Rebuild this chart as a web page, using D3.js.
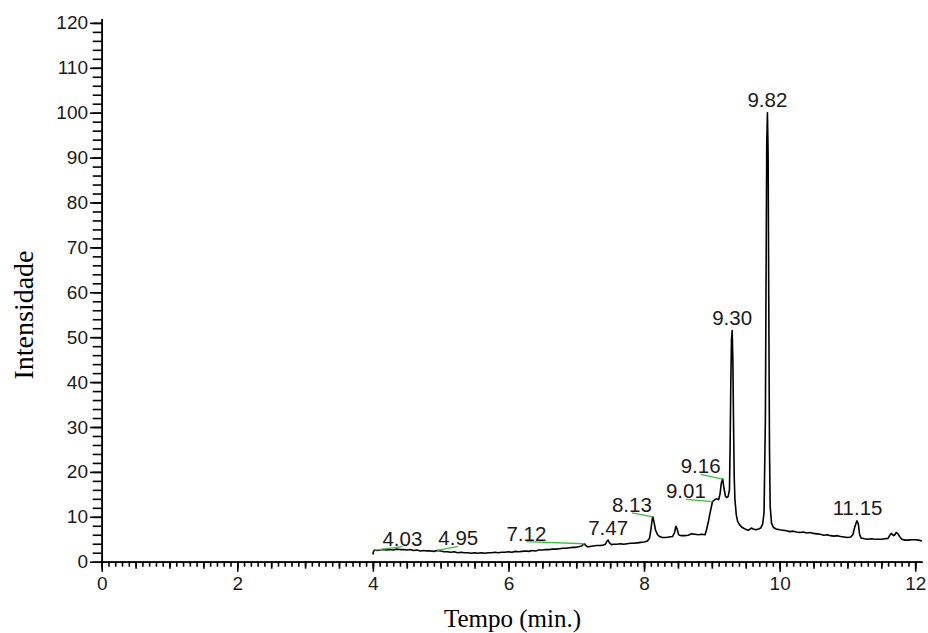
<!DOCTYPE html>
<html>
<head>
<meta charset="utf-8">
<script src="https://cdn.jsdelivr.net/npm/d3@7"></script>
<style>
  body { margin: 0; background: #fff; }
  .tick text { font-family: "Liberation Sans", Arial, sans-serif; fill: #1a1a1a; }
  .axis path, .axis line { stroke: #000; stroke-width: 1.6; }
</style>
</head>
<body>
<div id="chart"></div>
<script>
// chromatogram trace (time in min, relative intensity)
const times = [
  4.00, 4.01, 4.03, 4.06, 4.10, 4.15, 4.20, 4.25, 4.30, 4.35, 4.40, 4.45, 4.50, 4.55, 4.60, 4.65,
  4.70, 4.75, 4.80, 4.85, 4.90, 4.95, 5.00, 5.05, 5.10, 5.15, 5.20, 5.25, 5.30, 5.35, 5.40, 5.45,
  5.50, 5.55, 5.60, 5.65, 5.70, 5.75, 5.80, 5.85, 5.90, 5.95, 6.00, 6.05, 6.10, 6.15, 6.20, 6.25,
  6.30, 6.35, 6.40, 6.45, 6.50, 6.55, 6.60, 6.65, 6.70, 6.75, 6.80, 6.85, 6.90, 6.95, 7.00, 7.05,
  7.08, 7.10, 7.12, 7.14, 7.17, 7.20, 7.25, 7.30, 7.35, 7.40, 7.43, 7.45, 7.47, 7.49, 7.52, 7.55,
  7.60, 7.65, 7.70, 7.75, 7.80, 7.85, 7.90, 7.95, 8.00, 8.05, 8.08, 8.10, 8.12, 8.13, 8.15, 8.17,
  8.20, 8.23, 8.27, 8.32, 8.37, 8.42, 8.45, 8.47, 8.49, 8.51, 8.55, 8.60, 8.65, 8.70, 8.75, 8.80,
  8.85, 8.90, 8.92, 8.95, 8.98, 9.01, 9.04, 9.07, 9.10, 9.12, 9.14, 9.16, 9.18, 9.20, 9.22, 9.24,
  9.26, 9.27, 9.28, 9.29, 9.30, 9.31, 9.32, 9.33, 9.34, 9.36, 9.38, 9.41, 9.45, 9.50, 9.54, 9.58,
  9.61, 9.65, 9.69, 9.72, 9.75, 9.77, 9.79, 9.80, 9.81, 9.82, 9.83, 9.84, 9.85, 9.86, 9.88, 9.91,
  9.95, 10.00, 10.05, 10.10, 10.15, 10.20, 10.25, 10.30, 10.35, 10.40, 10.45, 10.50, 10.55, 10.60,
  10.65, 10.70, 10.75, 10.80, 10.85, 10.90, 10.95, 11.00, 11.05, 11.08, 11.11, 11.14, 11.16, 11.18,
  11.20, 11.25, 11.30, 11.35, 11.40, 11.45, 11.50, 11.55, 11.60, 11.63, 11.65, 11.68, 11.70, 11.72,
  11.74, 11.77, 11.80, 11.85, 11.90, 11.95, 12.00, 12.05, 12.10
];
const intensity = [
  1.6, 2.3, 2.6, 2.5, 2.6, 2.7, 2.6, 2.7, 2.6, 2.8, 2.7, 2.7, 2.6, 2.7, 2.5, 2.6,
  2.4, 2.5, 2.4, 2.4, 2.3, 2.5, 2.4, 2.2, 2.2, 2.1, 2.2, 2.0, 2.1, 2.0, 2.0, 1.9,
  2.0, 1.9, 2.0, 1.9, 2.0, 2.0, 2.1, 2.0, 2.1, 2.1, 2.2, 2.1, 2.3, 2.2, 2.3, 2.4,
  2.3, 2.5, 2.4, 2.6, 2.6, 2.7, 2.7, 2.8, 2.8, 2.9, 3.0, 3.0, 3.1, 3.2, 3.2, 3.4,
  3.5, 3.8, 4.0, 3.6, 3.3, 3.4, 3.5, 3.6, 3.6, 3.7, 3.9, 4.5, 4.8, 4.2, 3.8, 3.9,
  3.9, 4.0, 3.9, 4.0, 4.1, 4.1, 4.2, 4.3, 4.4, 4.6, 5.2, 7.0, 9.4, 10.0, 8.6, 7.0,
  6.0, 5.6, 5.4, 5.4, 5.5, 5.6, 6.5, 7.9, 7.2, 6.0, 5.8, 5.8, 5.9, 6.2, 6.1, 6.0,
  6.1, 6.0, 7.0, 9.0, 11.3, 13.4, 13.8, 14.0, 13.8, 15.0, 17.5, 18.4, 16.3, 14.6, 14.3, 14.5,
  16.0, 26.0, 40.0, 49.5, 51.5, 45.0, 31.0, 19.0, 14.0, 10.5, 9.0, 8.2, 7.6, 7.2, 7.0, 7.5,
  7.3, 7.1, 7.3, 7.5, 8.4, 11.0, 32.0, 64.0, 93.0, 100.0, 91.0, 57.0, 26.0, 12.5, 8.6, 7.6,
  7.3, 7.1, 7.0, 6.9, 6.7, 6.8, 6.6, 6.5, 6.6, 6.4, 6.5, 6.3, 6.2, 6.1,
  5.9, 6.0, 5.8, 5.7, 5.8, 5.6, 5.5, 5.4, 5.5, 6.0, 7.8, 9.1, 8.5, 6.0,
  5.3, 5.1, 5.0, 5.1, 5.0, 5.0, 5.0, 5.1, 5.2, 6.0, 6.3, 5.8, 6.0, 6.5,
  6.3, 5.6, 5.0, 4.8, 4.8, 4.9, 4.9, 4.8, 4.6
];

// labelled peaks
const peakTimes = [4.03, 4.95, 7.12, 7.47, 8.13, 9.01, 9.16, 9.30, 9.82, 11.15];
const peakHeights = [2.6, 2.5, 4.0, 4.8, 10.0, 13.4, 18.4, 51.5, 100, 9.1];
const peakLabels = ["4.03", "4.95", "7.12", "7.47", "8.13", "9.01", "9.16", "9.30", "9.82", "11.15"];
const peakBaseline = [true, true, true, false, true, true, true, false, false, false];

// axis ticks
const xMajorTicks = [0, 2, 4, 6, 8, 10, 12];
const yMajorTicks = [0, 10, 20, 30, 40, 50, 60, 70, 80, 90, 100, 110, 120];

// label placement in pixels relative to the peak apex
const labelOffsets = [[27.5, -4.5], [21, -5], [-58, -3.2], [0, -5.6], [-21, -5], [-26.6, -3.2], [-22, -5.8], [0, -5.5], [0, -6], [0, -5.8]];

const width = 928, height = 633;

const svg = d3.select("#chart").append("svg")
  .attr("width", width)
  .attr("height", height);

const x = d3.scaleLinear().domain([0, 12.1]).range([101.7, 922]);
const y = d3.scaleLinear().domain([0, 121]).range([561.7, 18.4]);

// x axis: minor, medium and major ticks
svg.append("g").attr("class", "axis")
  .attr("transform", `translate(0,${y(0)})`)
  .call(d3.axisBottom(x).tickValues(d3.range(0, 121).map(d => d / 10)).tickSize(5).tickSizeOuter(0).tickFormat(""));
svg.append("g").attr("class", "axis")
  .attr("transform", `translate(0,${y(0)})`)
  .call(d3.axisBottom(x).tickValues(d3.range(0, 25).map(d => d / 2)).tickSize(7).tickSizeOuter(0).tickFormat(""));
svg.append("g").attr("class", "axis")
  .attr("transform", `translate(0,${y(0)})`)
  .call(d3.axisBottom(x).tickValues(xMajorTicks).tickSize(10).tickSizeOuter(0).tickPadding(5))
  .selectAll("text").style("font-size", "19px");

// y axis
svg.append("g").attr("class", "axis")
  .attr("transform", `translate(${x(0)},0)`)
  .call(d3.axisLeft(y).tickValues(d3.range(0, 121, 2)).tickSize(9).tickSizeOuter(0).tickFormat(""));
svg.append("g").attr("class", "axis")
  .attr("transform", `translate(${x(0)},0)`)
  .call(d3.axisLeft(y).tickValues(yMajorTicks).tickSize(11.7).tickSizeOuter(0).tickPadding(2))
  .selectAll("text").style("font-size", "19px");

// trace
const line = d3.line()
  .x(d => x(d[0]))
  .y(d => y(d[1]));

svg.append("path")
  .datum(times.map((t, i) => [t, intensity[i]]))
  .attr("fill", "none")
  .attr("stroke", "#000")
  .attr("stroke-width", 1.6)
  .attr("stroke-linejoin", "round")
  .attr("d", line);

// peak labels and integration baselines
const peaks = peakTimes.map((t, i) => ({
  t, h: peakHeights[i], label: peakLabels[i], base: peakBaseline[i],
  dx: labelOffsets[i][0], dy: labelOffsets[i][1]
}));

svg.selectAll(".base").data(peaks.filter(p => p.base)).join("line")
  .attr("class", "base")
  .attr("x1", d => x(d.t))
  .attr("y1", d => y(d.h))
  .attr("x2", d => x(d.t) + d.dx)
  .attr("y2", d => y(d.h) + d.dy + 1)
  .attr("stroke", "#3cbf3c")
  .attr("stroke-width", 1.3);

svg.selectAll(".peak").data(peaks).join("text")
  .attr("class", "peak")
  .attr("x", d => x(d.t) + d.dx)
  .attr("y", d => y(d.h) + d.dy)
  .attr("text-anchor", "middle")
  .style("font-family", "'Liberation Sans', Arial, sans-serif")
  .style("font-size", "20.5px")
  .style("fill", "#1a1a1a")
  .text(d => d.label);

// axis titles
svg.append("text")
  .attr("x", 512.5)
  .attr("y", 626.7)
  .attr("text-anchor", "middle")
  .style("font-family", "'Liberation Serif', 'Times New Roman', serif")
  .style("font-size", "25px")
  .text("Tempo (min.)");

svg.append("text")
  .attr("transform", "translate(33,315) rotate(-90)")
  .attr("text-anchor", "middle")
  .style("font-family", "'Liberation Serif', 'Times New Roman', serif")
  .style("font-size", "28px")
  .text("Intensidade");
</script>
</body>
</html>
